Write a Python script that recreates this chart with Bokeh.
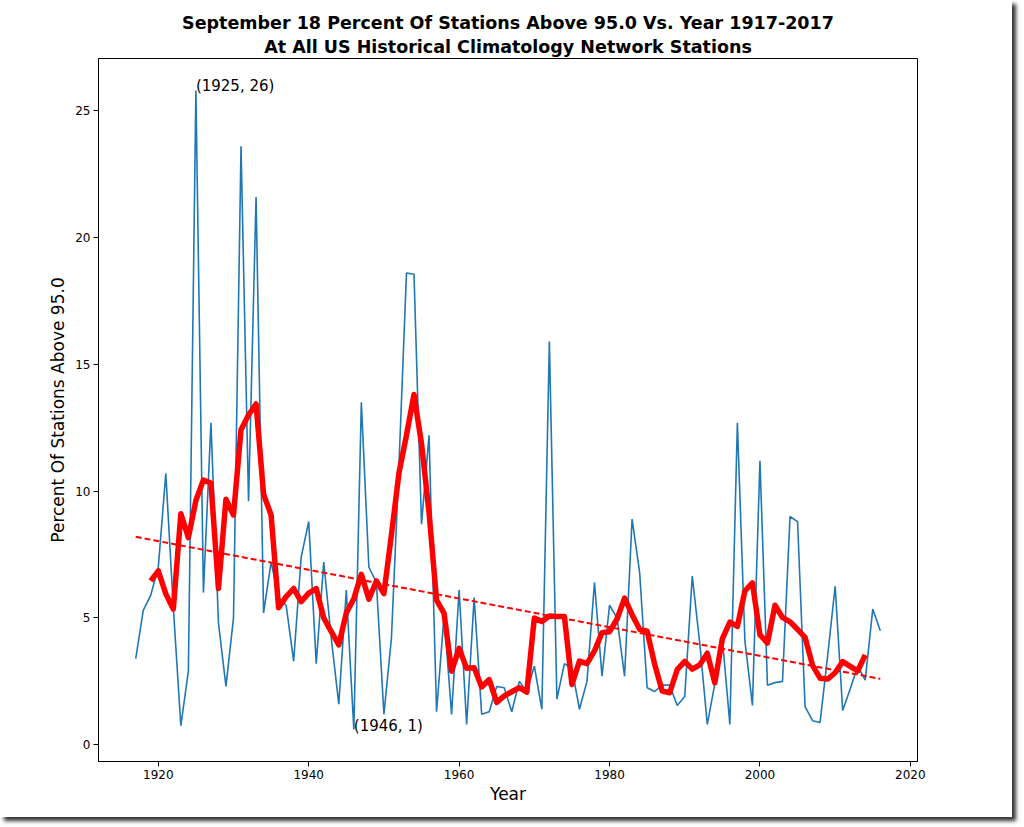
from bokeh.plotting import figure
from bokeh.models import Range1d, FixedTicker, Label, Title
from bokeh.embed import file_html
from bokeh.resources import INLINE

years = list(range(1917, 2017))
pct_above = [
    3.4, 5.3, 5.9, 7.0, 10.7, 5.4, 0.75, 2.9, 25.8, 6.0,
    12.7, 4.8, 2.3, 5.0, 23.6, 9.6, 21.6, 5.2, 7.2, 5.8,
    5.5, 3.3, 7.4, 8.8, 3.2, 7.2, 4.2, 1.6, 6.1, 0.6,
    13.5, 7.0, 6.4, 1.2, 4.2, 11.0, 18.6, 18.55, 8.7, 12.2,
    1.3, 5.1, 1.2, 6.1, 0.8, 5.8, 1.2, 1.3, 2.3, 2.25,
    1.3, 2.5, 2.1, 3.1, 1.4, 15.9, 1.8, 3.2, 3.0, 1.4,
    2.5, 6.4, 2.7, 5.5, 5.0, 2.7, 8.9, 6.8, 2.25, 2.1,
    2.35, 2.35, 1.55, 1.9, 6.65, 4.0, 0.8, 2.4, 4.2, 0.8,
    12.7, 4.1, 1.55, 11.2, 2.35, 2.45, 2.5, 9.0, 8.8, 1.5,
    0.95, 0.88, 3.5, 6.25, 1.35, 2.2, 3.1, 2.55, 5.35, 4.5,
]

avg_years = list(range(1919, 2015))
avg_pct = [
    6.46, 6.86, 5.95, 5.35, 9.11, 8.17, 9.63, 10.44, 10.32, 6.16,
    9.68, 9.06, 12.42, 13.0, 13.44, 9.88, 9.06, 5.4, 5.84, 6.16,
    5.64, 5.98, 6.16, 5.0, 4.46, 3.94, 5.2, 5.76, 6.72, 5.74,
    6.46, 5.96, 8.28, 10.71, 12.21, 13.81, 11.87, 9.17, 5.7, 5.18,
    2.9, 3.8, 3.02, 3.04, 2.28, 2.57, 1.67, 1.93, 2.09, 2.25,
    2.08, 5.0, 4.86, 5.08, 5.06, 5.06, 2.38, 3.3, 3.2, 3.7,
    4.42, 4.46, 4.96, 5.78, 5.13, 4.55, 4.48, 3.17, 2.12, 2.05,
    2.96, 3.29, 2.98, 3.15, 3.61, 2.44, 4.18, 4.84, 4.67, 6.07,
    6.38, 4.33, 4.01, 5.5, 5.02, 4.85, 4.55, 4.23, 3.13, 2.62,
    2.59, 2.84, 3.28, 3.09, 2.91, 3.54,
]

trend_years = [1917, 2016]
trend_pct = [8.2, 2.6]

x_ticks = [1920, 1940, 1960, 1980, 2000, 2020]
y_ticks = [0, 5, 10, 15, 20, 25]

title_1 = "September 18 Percent Of Stations Above 95.0 Vs. Year 1917-2017"
title_2 = "At All US Historical Climatology Network Stations"
x_label = "Year"
y_label = "Percent Of Stations Above 95.0"

FONT = "DejaVu Sans"

xmin, xmax = min(years), max(years)
xpad = 0.05 * (xmax - xmin)
ymin, ymax = min(pct_above), max(pct_above)
ypad = 0.05 * (ymax - ymin)

p = figure(
    width=1012, height=817,
    x_range=Range1d(xmin - xpad, xmax + xpad),
    y_range=Range1d(ymin - ypad, ymax + ypad),
    output_backend="svg", toolbar_location=None, title=None,
    min_border_left=98, min_border_right=95,
    min_border_top=58, min_border_bottom=56,
)
p.styles = {"box-shadow": "4px 4px 4px rgba(0,0,0,0.8)"}

p.add_layout(Title(text=title_2, align="center", text_font=FONT,
                   text_font_size="17.5px", text_font_style="bold",
                   text_color="black", standoff=4, offset=0), "above")
p.add_layout(Title(text=title_1, align="center", text_font=FONT,
                   text_font_size="17.5px", text_font_style="bold",
                   text_color="black", standoff=-1, offset=0), "above")

p.xgrid.visible = False
p.ygrid.visible = False
p.outline_line_color = "black"
p.outline_line_width = 1
p.background_fill_color = "white"
p.border_fill_color = "white"

p.xaxis.ticker = FixedTicker(ticks=x_ticks)
p.yaxis.ticker = FixedTicker(ticks=y_ticks)
for ax in (p.xaxis, p.yaxis):
    ax.minor_tick_line_color = None
    ax.major_tick_in = 0
    ax.major_tick_out = 5
    ax.major_tick_line_color = "black"
    ax.axis_line_color = "black"
    ax.major_label_text_font = FONT
    ax.major_label_text_font_size = "12px"
    ax.major_label_text_color = "black"
    ax.axis_label_text_font = FONT
    ax.axis_label_text_font_size = "17px"
    ax.axis_label_text_font_style = "normal"
    ax.axis_label_text_color = "black"
    ax.major_label_standoff = 3
p.xaxis.axis_label = x_label
p.yaxis.axis_label = y_label
p.xaxis.axis_label_standoff = 2
p.yaxis.axis_label_standoff = 4

p.line(years, pct_above, line_color="#1f77b4", line_width=1.6)
p.line(avg_years, avg_pct, line_color="red", line_width=5.5, line_join="round")
p.line(trend_years, trend_pct, line_color="red", line_width=2, line_dash="6 3")

imax = pct_above.index(max(pct_above))
imin = pct_above.index(min(pct_above))
for i in (imax, imin):
    p.add_layout(Label(x=years[i], y=pct_above[i], y_offset=4,
                       text=f"({years[i]}, {round(pct_above[i])})",
                       text_font=FONT, text_font_size="15px",
                       text_color="black", text_align="left",
                       text_baseline="alphabetic"))

open("out.html", "w").write(file_html(p, INLINE))
